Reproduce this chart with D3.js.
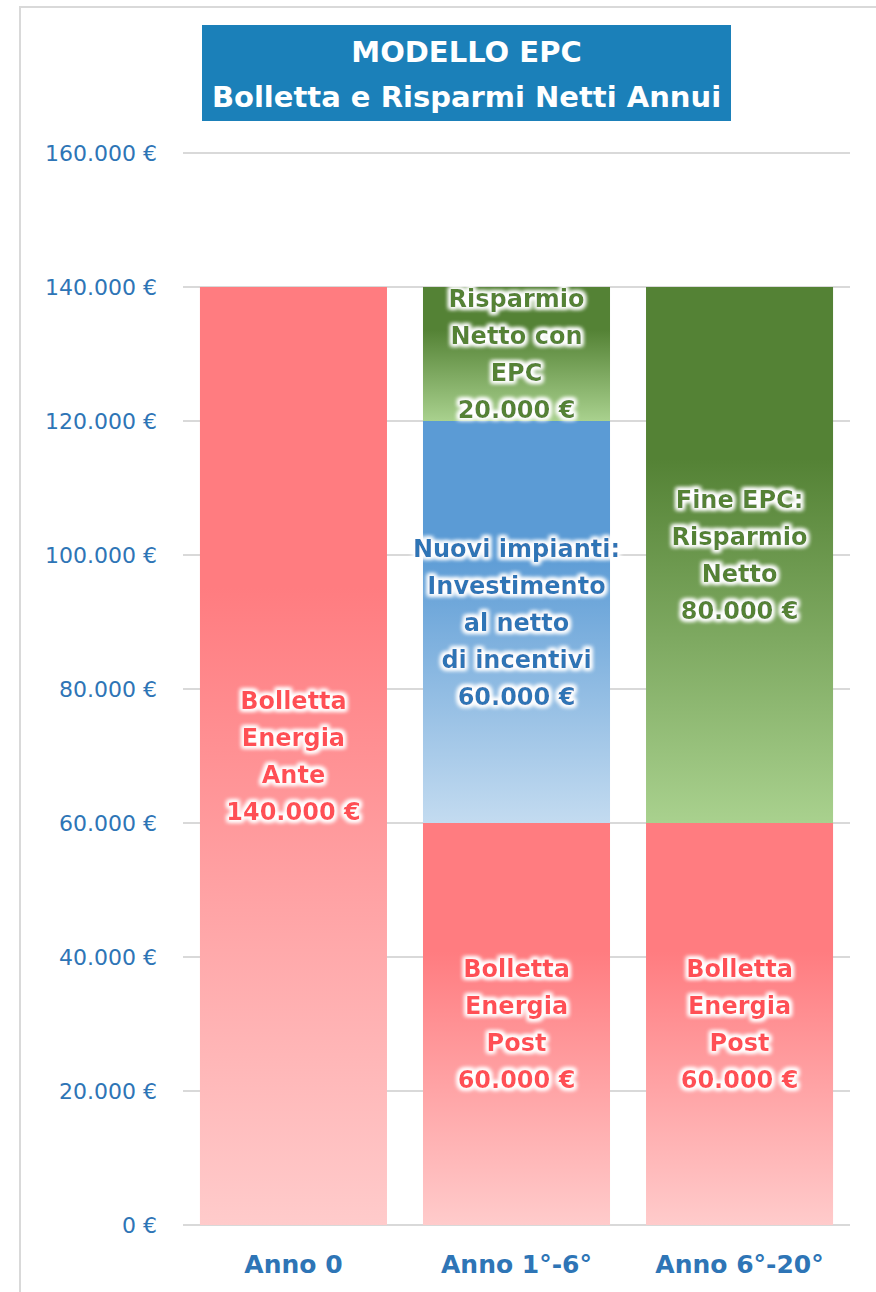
<!DOCTYPE html>
<html>
<head>
<meta charset="utf-8">
<script src="https://cdn.jsdelivr.net/npm/d3@7"></script>
<style>
  body { margin: 0; background: #fff; }
  svg { display: block; }
</style>
</head>
<body>
<svg id="chart" width="876" height="1292"></svg>
<script>
"use strict";

// Chart data.
var categories = ["Anno 0", "Anno 1°-6°", "Anno 6°-20°"];
var seriesKeys = ["bolletta", "investimento", "risparmioEpc", "risparmioFine"];
var bolletta      = [140000, 60000, 60000];
var investimento  = [0, 60000, 0];
var risparmioEpc  = [0, 20000, 0];
var risparmioFine = [0, 0, 80000];
var yTicks = [0, 20000, 40000, 60000, 80000, 100000, 120000, 140000, 160000];
var titleLines = ["MODELLO EPC", "Bolletta e Risparmi Netti Annui"];

// Text inside each segment, per category (null = no label).
var segmentLabels = {
    bolletta: [
        ["Bolletta", "Energia", "Ante", "140.000 €"],
        ["Bolletta", "Energia", "Post", "60.000 €"],
        ["Bolletta", "Energia", "Post", "60.000 €"]
    ],
    investimento: [null, ["Nuovi impianti:", "Investimento", "al netto", "di incentivi", "60.000 €"], null],
    risparmioEpc: [null, ["Risparmio", "Netto con", "EPC", "20.000 €"], null],
    risparmioFine: [null, null, ["Fine EPC:", "Risparmio", "Netto", "80.000 €"]]
};

var style = {
    bolletta:      { top: "#ff7c80", bottom: "#ffcbcb", text: "#ff4f55" },
    investimento:  { top: "#5b9bd5", bottom: "#c3dbf0", text: "#2e75b6" },
    risparmioEpc:  { top: "#548235", bottom: "#a9d18e", text: "#548235" },
    risparmioFine: { top: "#548235", bottom: "#a9d18e", text: "#548235" }
};

var rows = categories.map(function(c, i) {
    return {
        category: c,
        bolletta: bolletta[i],
        investimento: investimento[i],
        risparmioEpc: risparmioEpc[i],
        risparmioFine: risparmioFine[i]
    };
});

var svg = d3.select("#chart");
var font = "'DejaVu Sans', Verdana, sans-serif";

// Outer chart frame (only top and left edges visible in the crop).
svg.append("path")
    .attr("d", "M20,1292V7H876")
    .attr("fill", "none")
    .attr("stroke", "#d9d9d9")
    .attr("stroke-width", 2);

var x = d3.scaleBand()
    .domain(categories)
    .range([183, 850])
    .paddingInner(0.1614)
    .paddingOuter(0.076);

var y = d3.scaleLinear()
    .domain([0, 160000])
    .range([1225, 153]);

var defs = svg.append("defs");

seriesKeys.forEach(function(k) {
    var g = defs.append("linearGradient")
        .attr("id", "grad-" + k)
        .attr("x1", 0).attr("y1", 0).attr("x2", 0).attr("y2", 1);
    g.append("stop").attr("offset", 0).attr("stop-color", style[k].top);
    g.append("stop").attr("offset", 0.32).attr("stop-color", style[k].top);
    g.append("stop").attr("offset", 1).attr("stop-color", style[k].bottom);
});

// White glow around the labels.
var glow = defs.append("filter")
    .attr("id", "glow")
    .attr("x", "-20%").attr("y", "-40%")
    .attr("width", "140%").attr("height", "180%");
glow.append("feMorphology")
    .attr("in", "SourceAlpha").attr("operator", "dilate").attr("radius", 1.8)
    .attr("result", "fat");
glow.append("feGaussianBlur")
    .attr("in", "fat").attr("stdDeviation", 2.2).attr("result", "blur");
glow.append("feFlood").attr("flood-color", "#ffffff").attr("result", "white");
glow.append("feComposite")
    .attr("in", "white").attr("in2", "blur").attr("operator", "in")
    .attr("result", "halo");
var merge = glow.append("feMerge");
merge.append("feMergeNode").attr("in", "halo");
merge.append("feMergeNode").attr("in", "halo");
merge.append("feMergeNode").attr("in", "SourceGraphic");

// Gridlines
svg.append("g")
    .selectAll("line")
    .data(yTicks)
    .join("line")
    .attr("x1", 183).attr("x2", 850)
    .attr("y1", function(d) { return y(d); })
    .attr("y2", function(d) { return y(d); })
    .attr("stroke", "#d9d9d9")
    .attr("stroke-width", 2);

// Y axis labels
var fmt = d3.formatLocale({ decimal: ",", thousands: ".", grouping: [3], currency: ["", " €"] }).format(",");
svg.append("g")
    .selectAll("text")
    .data(yTicks)
    .join("text")
    .attr("x", 157)
    .attr("y", function(d) { return y(d); })
    .attr("dy", "0.36em")
    .attr("text-anchor", "end")
    .attr("font-family", font)
    .attr("font-size", 22)
    .attr("fill", "#2e75b6")
    .text(function(d) { return fmt(d) + " €"; });

// Stacked bars
var stacked = d3.stack().keys(seriesKeys)(rows);

var layers = svg.append("g")
    .selectAll("g")
    .data(stacked)
    .join("g")
    .attr("fill", function(d) { return "url(#grad-" + d.key + ")"; });

layers.selectAll("rect")
    .data(function(d) { return d.filter(function(s) { return s[1] > s[0]; }); })
    .join("rect")
    .attr("x", function(d) { return x(d.data.category); })
    .attr("width", x.bandwidth())
    .attr("y", function(d) { return y(d[1]); })
    .attr("height", function(d) { return y(d[0]) - y(d[1]); });

// Segment labels
var lineH = 37;
stacked.forEach(function(layer) {
    layer.forEach(function(s, i) {
        var lines = segmentLabels[layer.key][i];
        if (!lines || s[1] <= s[0]) return;
        var cx = x(s.data.category) + x.bandwidth() / 2;
        var cy = y((s[0] + s[1]) / 2);
        var t = svg.append("text")
            .attr("text-anchor", "middle")
            .attr("font-family", font)
            .attr("font-size", 24)
            .attr("font-weight", "bold")
            .attr("fill", style[layer.key].text)
            .attr("filter", "url(#glow)");
        lines.forEach(function(line, j) {
            t.append("tspan")
                .attr("x", cx)
                .attr("y", cy + (j - (lines.length - 1) / 2) * lineH)
                .attr("dy", "0.36em")
                .text(line);
        });
    });
});

// X axis labels
svg.append("g")
    .selectAll("text")
    .data(categories)
    .join("text")
    .attr("x", function(d) { return x(d) + x.bandwidth() / 2; })
    .attr("y", 1264)
    .attr("dy", "0.36em")
    .attr("text-anchor", "middle")
    .attr("font-family", font)
    .attr("font-size", 25)
    .attr("font-weight", "bold")
    .attr("fill", "#2e75b6")
    .text(function(d) { return d; });

// Title box
svg.append("rect")
    .attr("x", 202).attr("y", 25)
    .attr("width", 529).attr("height", 96)
    .attr("fill", "#1b80b9");

svg.append("g")
    .selectAll("text")
    .data(titleLines)
    .join("text")
    .attr("x", 466.5)
    .attr("y", function(d, i) { return 52 + i * 45; })
    .attr("dy", "0.36em")
    .attr("text-anchor", "middle")
    .attr("font-family", font)
    .attr("font-size", 29)
    .attr("font-weight", "bold")
    .attr("fill", "#ffffff")
    .text(function(d) { return d; });
</script>
</body>
</html>
